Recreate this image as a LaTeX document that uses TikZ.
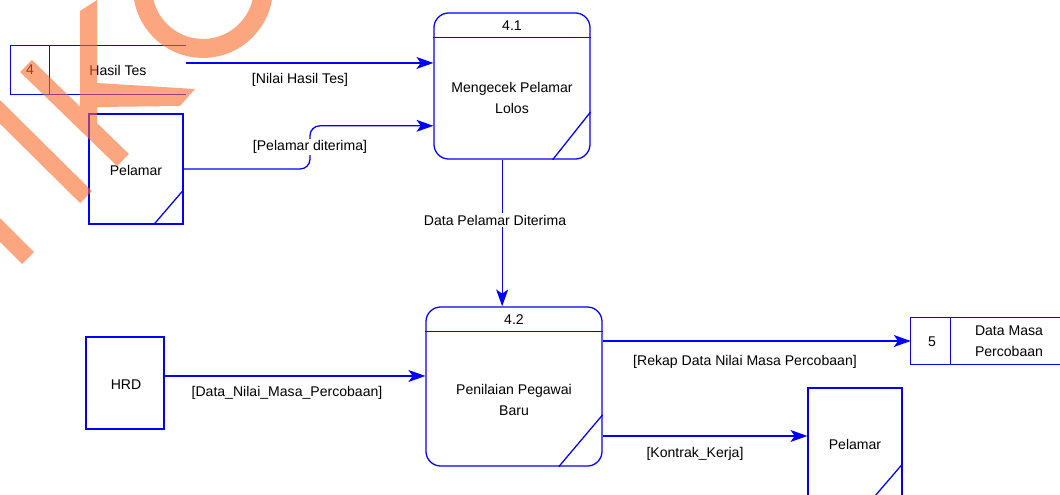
\documentclass[tikz,border=0pt]{standalone}
\usepackage{fontspec}
\setmainfont{Liberation Sans}
\usetikzlibrary{arrows.meta}
\definecolor{dfdblue}{RGB}{0,0,255}
\definecolor{wmorange}{RGB}{250,107,43}
\tikzset{
    every node/.style={font=\fontsize{10}{15}\selectfont, inner sep=1pt}
}
\tikzset{
    proc/.style={draw=dfdblue, line width=0.9pt, rounded corners=10.5pt},
    ent/.style={draw=dfdblue, line width=0.9pt},
    store/.style={draw=none},
    lbl/.style={fill=white},
    edge line/.style={draw=dfdblue, line width=0.9pt},
    flow/.style={draw=dfdblue, line width=0.9pt,
        -{Stealth[length=12pt,width=8.5pt,inset=3pt]}},
    wmark/.style={draw=none, fill=wmorange},
    wstroke/.style={draw=wmorange, line width=12pt}
}
\pgfdeclarelayer{background}
\pgfsetlayers{background,main}

\begin{document}
\begin{tikzpicture}[x=0.025cm, y=-0.025cm]
	\useasboundingbox (0,0) rectangle (1060,494);

	\node (ds4) [store, minimum width=4.375cm, minimum height=1.2cm] at (98.5,70) {};
	\node (pel1) [ent, minimum width=2.35cm, minimum height=2.75cm] at (136,169) {};
	\node (p41) [proc, minimum width=3.9cm, minimum height=3.65cm] at (512,86) {};
	\node (p42) [proc, minimum width=4.4cm, minimum height=3.975cm] at (514,386.5) {};
	\node (hrd) [ent, minimum width=1.95cm, minimum height=2.3cm] at (125,383) {};
	\node (ds5) [store, minimum width=4cm, minimum height=1.15cm] at (991,341) {};
	\node (pel2) [ent, minimum width=2.35cm, minimum height=2.75cm] at (855,443) {};

	\node (ds4num) at (30,70) {4};
	\node (ds4txt) at (118,70) {Hasil Tes};
	\node (pel1txt) at (136,170) {Pelamar};
	\node (p41id) at (512,26) {4.1};
	\node (p41txt) [align=center] at (512,98) {Mengecek Pelamar\\Lolos};
	\node (p42id) at (514,320) {4.2};
	\node (p42txt) [align=center] at (514,400) {Penilaian Pegawai\\Baru};
	\node (hrdtxt) at (126,385) {HRD};
	\node (ds5num) at (932,342) {5};
	\node (ds5txt) [align=center] at (1009,341) {Data Masa\\Percobaan};
	\node (pel2txt) at (855,444) {Pelamar};

	\node (lnilai) at (300,80) {[Nilai Hasil Tes]};
	\node (lterima) [lbl] at (310,147) {[Pelamar diterima]};
	\node (ldata) [lbl] at (495,220) {Data Pelamar Diterima};
	\node (lhrd) at (287,393) {[Data\_Nilai\_Masa\_Percobaan]};
	\node (lrekap) at (745,362) {[Rekap Data Nilai Masa Percobaan]};
	\node (lkontrak) at (695,454) {[Kontrak\_Kerja]};

	% store outlines, headers, corner marks
	\draw[edge line] (ds4.north east) -- (ds4.north west) -- (ds4.south west) -- (ds4.south east);
	\draw[edge line] ([xshift=27.6pt]ds4.north west) -- ([xshift=27.6pt]ds4.south west);
	\draw[edge line] (ds5.north east) -- (ds5.north west) -- (ds5.south west) -- (ds5.south east);
	\draw[edge line] ([xshift=28.3pt]ds5.north west) -- ([xshift=28.3pt]ds5.south west);
	\draw[edge line] ([yshift=-17.7pt]p41.north west) -- ([yshift=-17.7pt]p41.north east);
	\draw[edge line] ([yshift=-17.7pt]p42.north west) -- ([yshift=-17.7pt]p42.north east);
	\draw[edge line] ([xshift=-27pt]p41.south east) -- ([yshift=34pt]p41.south east);
	\draw[edge line] ([xshift=-31.2pt]p42.south east) -- ([yshift=36.9pt]p42.south east);
	\draw[edge line] ([xshift=-21.3pt]pel1.south east) -- ([yshift=24.8pt]pel1.south east);
	\draw[edge line] ([xshift=-21.3pt]pel2.south east) -- ([yshift=24.8pt]pel2.south east);

	\begin{pgfonlayer}{background}
		\draw[flow] ([yshift=5pt]ds4.east) -- ([yshift=5pt]ds4.east -| p41.west);
		\draw[flow, rounded corners=7pt] (pel1.east) -| (lterima.center) |- ([yshift=-28.3pt]p41.west);
		\draw[flow] ([xshift=-7pt]p41.south) -- ([xshift=-7pt]p41.south |- p42.north);
		\draw[flow] ([yshift=5pt]hrd.east) -- ([yshift=5pt]hrd.east -| p42.west);
		\draw[flow] (ds5.west -| p42.east) -- (ds5.west);
		\draw[flow] ([yshift=5pt]pel2.west -| p42.east) -- ([yshift=5pt]pel2.west);
	\end{pgfonlayer}

	% watermark
	\begin{scope}[transparency group, opacity=0.6]
		\path[wmark] (80,11) -- (97,0) -- (97,125) -- (80,125) -- cycle;
		\path[wmark] (97,83) -- (195,89) -- (180,106) -- (97,107) -- cycle;
		\draw[wstroke] (26,66) -- (123,160);
		\draw[wstroke] (-10,102) -- (86,197);
		\draw[wstroke] (-10,220) -- (28,258);
		\draw[wstroke, line width=13.5pt] (203,-12) circle [radius=1.51cm];
	\end{scope}
\end{tikzpicture}
\end{document}
